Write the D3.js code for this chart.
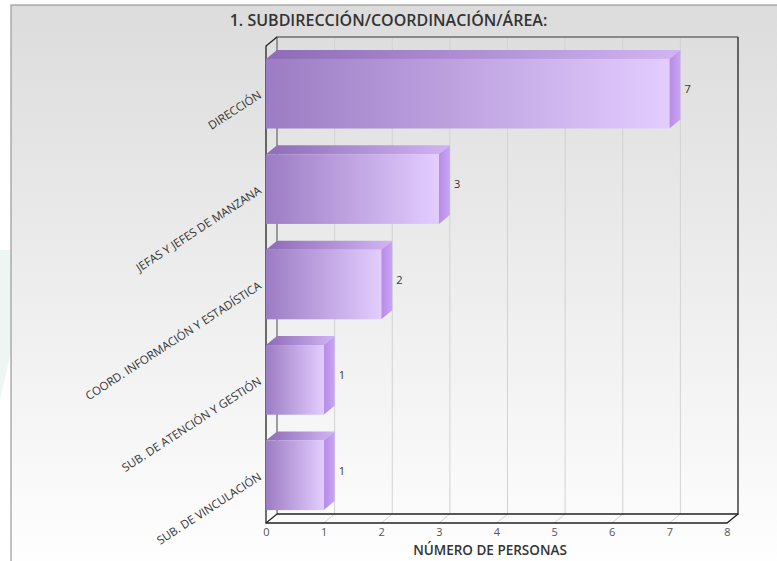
<!DOCTYPE html>
<html>
<head>
<meta charset="utf-8">
<script src="https://cdn.jsdelivr.net/npm/d3@7"></script>
<style>
  html, body { margin: 0; padding: 0; background: #fff; }
  #chart { width: 777px; height: 561px; }
  text { font-family: "Open Sans", "Noto Sans", sans-serif; }
</style>
</head>
<body>
<div id="chart"></div>
<script>
// DATA
const categories = [
  "DIRECCIÓN",
  "JEFAS Y JEFES DE MANZANA",
  "COORD. INFORMACIÓN Y ESTADÍSTICA",
  "SUB. DE ATENCIÓN Y GESTIÓN",
  "SUB. DE VINCULACIÓN"
];
const values = [7, 3, 2, 1, 1];
const xTicks = [0, 1, 2, 3, 4, 5, 6, 7, 8];
const title = "1. SUBDIRECCIÓN/COORDINACIÓN/ÁREA:";
const xTitle = "NÚMERO DE PERSONAS";

// CONSTANTS
const width = 777;
const height = 561;
const depthX = 11;   // 3d offset
const depthY = 9;

const svg = d3.select("#chart")
  .append("svg")
  .attr("width", width)
  .attr("height", height);

const defs = svg.append("defs");

// background gradient
const bg = defs.append("linearGradient")
  .attr("id", "bg").attr("x1", 0).attr("y1", 0).attr("x2", 0).attr("y2", 1);
bg.append("stop").attr("offset", "0%").attr("stop-color", "#dcdcdc");
bg.append("stop").attr("offset", "100%").attr("stop-color", "#ffffff");

// bar gradients (front, top, side)
function hGrad(id, c0, c1) {
  const g = defs.append("linearGradient")
    .attr("id", id).attr("x1", 0).attr("y1", 0).attr("x2", 1).attr("y2", 0);
  g.append("stop").attr("offset", "0%").attr("stop-color", c0);
  g.append("stop").attr("offset", "100%").attr("stop-color", c1);
}
hGrad("front", "#9c7cc4", "#e3cdff");
hGrad("top", "#8d6bb6", "#d2b4f4");
hGrad("side", "#b68ce6", "#c9a4f4");

// faint shape left of frame
svg.append("path")
  .attr("d", "M0,250 L16,250 L16,330 L0,400 Z")
  .attr("fill", "#eef6f3");

// FRAME
svg.append("rect")
  .attr("x", 11).attr("y", 5)
  .attr("width", width + 10).attr("height", height + 10)
  .attr("fill", "url(#bg)")
  .attr("stroke", "#9a9a9a")
  .attr("stroke-width", 1.2);

// SCALES
const xScale = d3.scaleLinear()
  .domain([0, 8])
  .range([266, 727]);

const yScale = d3.scaleBand()
  .domain(categories)
  .range([46, 523])
  .paddingInner(0.27)
  .paddingOuter(0.135);

const y0 = yScale.range()[0];
const y1 = yScale.range()[1];

// FLOOR
svg.append("path")
  .attr("d", `M${xScale(0)},${y1} L${xScale(0) + depthX},${y1 - depthY} L${xScale(8) + depthX},${y1 - depthY} L${xScale(8)},${y1} Z`)
  .attr("fill", "#fbfbfb");

// GRIDLINES (back wall + floor)
const grid = svg.append("g").attr("class", "grid");
grid.selectAll(".gback")
  .data(xTicks.slice(1, -1))
  .join("line")
  .attr("x1", d => xScale(d) + depthX).attr("x2", d => xScale(d) + depthX)
  .attr("y1", y0 - depthY).attr("y2", y1 - depthY)
  .attr("stroke", "#d2d2d2");
grid.selectAll(".gfloor")
  .data(xTicks.slice(1, -1))
  .join("line")
  .attr("x1", d => xScale(d)).attr("x2", d => xScale(d) + depthX)
  .attr("y1", y1).attr("y2", y1 - depthY)
  .attr("stroke", "#d2d2d2");

// BACK WALL OUTLINE
const bx0 = xScale(0) + depthX, bx1 = xScale(8) + depthX;
svg.append("path")
  .attr("d", `M${bx0},${y1 - depthY} L${bx0},${y0 - depthY} L${bx1},${y0 - depthY}`)
  .attr("fill", "none").attr("stroke", "#6e6e6e").attr("stroke-width", 1.3);
svg.append("path")
  .attr("d", `M${bx1},${y0 - depthY} L${bx1},${y1 - depthY} L${bx0},${y1 - depthY}`)
  .attr("fill", "none").attr("stroke", "#222").attr("stroke-width", 1.3);

// LEFT + BOTTOM FRONT EDGES
svg.append("path")
  .attr("d", `M${bx0},${y0 - depthY} L${xScale(0)},${y0} L${xScale(0)},${y1} L${xScale(8)},${y1} L${bx1},${y1 - depthY}`)
  .attr("fill", "none").attr("stroke", "#222").attr("stroke-width", 1.3);
svg.append("line")
  .attr("x1", xScale(0)).attr("y1", y1)
  .attr("x2", bx0).attr("y2", y1 - depthY)
  .attr("stroke", "#222").attr("stroke-width", 1.1);

// BARS
const bars = svg.selectAll(".bar")
  .data(categories.map((c, i) => ({ cat: c, value: values[i] })))
  .join("g")
  .attr("class", "bar");

bars.append("path")
  .attr("d", d => {
    const xa = xScale(0), xb = xScale(d.value), y = yScale(d.cat);
    return `M${xa},${y} L${xa + depthX},${y - depthY} L${xb + depthX},${y - depthY} L${xb},${y} Z`;
  })
  .attr("fill", "url(#top)");

bars.append("path")
  .attr("d", d => {
    const xb = xScale(d.value), y = yScale(d.cat), h = yScale.bandwidth();
    return `M${xb},${y} L${xb + depthX},${y - depthY} L${xb + depthX},${y + h - depthY} L${xb},${y + h} Z`;
  })
  .attr("fill", "url(#side)");

bars.append("rect")
  .attr("x", xScale(0))
  .attr("y", d => yScale(d.cat))
  .attr("width", d => xScale(d.value) - xScale(0))
  .attr("height", yScale.bandwidth())
  .attr("fill", "url(#front)");

// VALUE LABELS
bars.append("text")
  .attr("x", d => xScale(d.value) + depthX + 4)
  .attr("y", d => yScale(d.cat) + yScale.bandwidth() / 2 - depthY / 2)
  .attr("dy", "0.35em")
  .attr("font-size", 11)
  .attr("fill", "#333")
  .text(d => d.value);

// X AXIS
const xAxis = d3.axisBottom(xScale)
  .tickValues(xTicks)
  .tickSize(0)
  .tickPadding(5);

const xAxisGroup = svg.append("g")
  .attr("class", "xAxis")
  .attr("transform", `translate(0,${y1})`)
  .call(xAxis);
xAxisGroup.select(".domain").remove();
xAxisGroup.selectAll("text")
  .attr("font-size", 11)
  .attr("fill", "#555")
  .style("font-family", "'Open Sans', sans-serif");

svg.append("text")
  .attr("x", 490)
  .attr("y", 555)
  .attr("text-anchor", "middle")
  .attr("font-size", 13.5)
  .attr("font-weight", 600)
  .attr("fill", "#333")
  .text(xTitle);

// Y AXIS (rotated labels)
svg.append("g")
  .attr("class", "yAxis")
  .selectAll("text")
  .data(categories)
  .join("text")
  .attr("transform", d => `translate(${xScale(0) - 6},${yScale(d) + yScale.bandwidth() / 2}) rotate(-33)`)
  .attr("text-anchor", "end")
  .attr("dy", "0.35em")
  .attr("font-size", 11.5)
  .attr("fill", "#333")
  .text(d => d);

// TITLE
svg.append("text")
  .attr("x", width / 2)
  .attr("y", 26)
  .attr("text-anchor", "middle")
  .attr("font-size", 16)
  .attr("font-weight", 600)
  .attr("fill", "#333")
  .text(title);
</script>
</body>
</html>
